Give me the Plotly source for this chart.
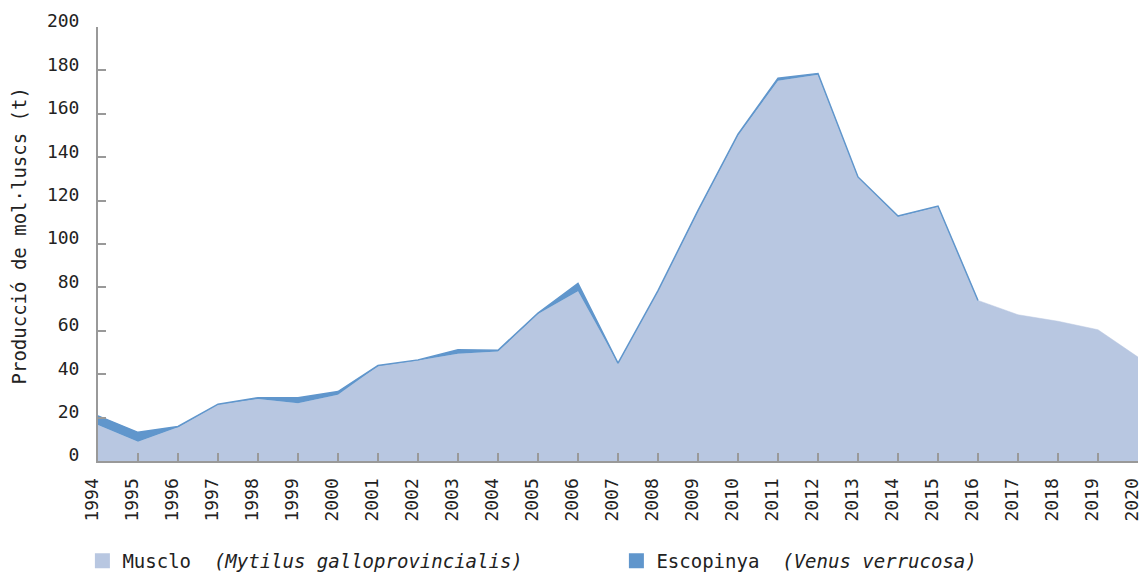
import plotly.graph_objects as go

years = list(range(1994, 2021))
musclo = [16.6, 8.9, 15.6, 26.0, 28.6, 26.6, 30.5, 43.8, 46.3, 49.4, 50.5, 67.7, 78.2,
          44.9, 78.2, 115.0, 150.1, 175.2, 178.0, 130.6, 112.6, 117.2, 74.0,
          67.4, 64.4, 60.5, 47.9]
esc_years = list(range(1994, 2017))
escopinya = [4.2, 4.3, 0.3, 0.2, 0.6, 2.6, 1.5, 0.2, 0.3, 1.9, 0.5, 0.5, 3.6,
             0.2, 0.3, 0.5, 0.5, 1.2, 0.6, 0.3, 0.3, 0.3, 0.0]
yticks = [0, 20, 40, 60, 80, 100, 120, 140, 160, 180, 200]

FONT = "DejaVu Sans Mono"
C_MUS = "#b8c7e1"
C_ESC = "#6096cc"
TXT = "#222222"

musclo_part = musclo[:len(esc_years)]
total = [m + e for m, e in zip(musclo_part, escopinya)]

fig = go.Figure()
fig.add_trace(go.Scatter(
    x=years, y=musclo, mode="lines", fill="tozeroy", fillcolor=C_MUS,
    line=dict(color=C_MUS, width=0.5), showlegend=False, hoverinfo="skip"))
fig.add_trace(go.Scatter(
    x=esc_years, y=musclo_part, mode="lines", line=dict(color=C_MUS, width=0),
    showlegend=False, hoverinfo="skip"))
fig.add_trace(go.Scatter(
    x=esc_years, y=total, mode="lines", fill="tonexty", fillcolor=C_ESC,
    line=dict(color=C_ESC, width=1.5), showlegend=False, hoverinfo="skip"))
# legend entries (square swatches)
fig.add_trace(go.Scatter(
    x=[None], y=[None], mode="markers",
    marker=dict(symbol="square", size=15, color=C_MUS),
    name="Musclo\u00a0\u00a0<i>(Mytilus galloprovincialis)</i>"))
fig.add_trace(go.Scatter(
    x=[None], y=[None], mode="markers",
    marker=dict(symbol="square", size=15, color=C_ESC),
    name="Escopinya\u00a0\u00a0<i>(Venus verrucosa)</i>"))

fig.update_layout(
    width=1141, height=574,
    margin=dict(l=98, r=3, t=27, b=113, autoexpand=False),
    paper_bgcolor="white", plot_bgcolor="white",
    font=dict(family=FONT, size=18, color=TXT),
    showlegend=True,
    legend=dict(orientation="h", x=-0.015, xanchor="left", y=-0.23, yanchor="middle",
                entrywidth=489, entrywidthmode="pixels",
                font=dict(family=FONT, size=19, color=TXT),
                traceorder="normal"),
    annotations=[dict(
        text="Producció de mol·luscs (t)", textangle=-90, showarrow=False,
        xref="paper", yref="paper", x=(18 - 98) / 1040, y=(461 - 236.5) / 434,
        xanchor="center", yanchor="middle",
        font=dict(family=FONT, size=19, color=TXT))],
)
fig.update_xaxes(
    range=[1994, 2020], tickmode="array", tickvals=years, ticktext=[str(y) for y in years],
    tickangle=-90, ticks="inside", ticklen=8, tickwidth=2, tickcolor="#999999",
    showline=True, linecolor="#999999", linewidth=2, showgrid=False, zeroline=False,
    ticklabelshift=-6, ticklabelstandoff=8, automargin=False, ticklabeloverflow="allow",
    tickfont=dict(family=FONT, size=18, color=TXT),
)
fig.update_yaxes(
    range=[0, 200], tickmode="array", tickvals=yticks,
    ticks="inside", ticklen=8, tickwidth=2, tickcolor="#999999",
    showline=True, linecolor="#999999", linewidth=2, showgrid=False, zeroline=False,
    ticklabelshift=-6, ticklabelstandoff=13, automargin=False, ticklabeloverflow="allow",
    tickfont=dict(family=FONT, size=18, color=TXT),
)

fig.write_html("out.html", config={"displayModeBar": False},
               post_script="document.body.style.margin='0';")
